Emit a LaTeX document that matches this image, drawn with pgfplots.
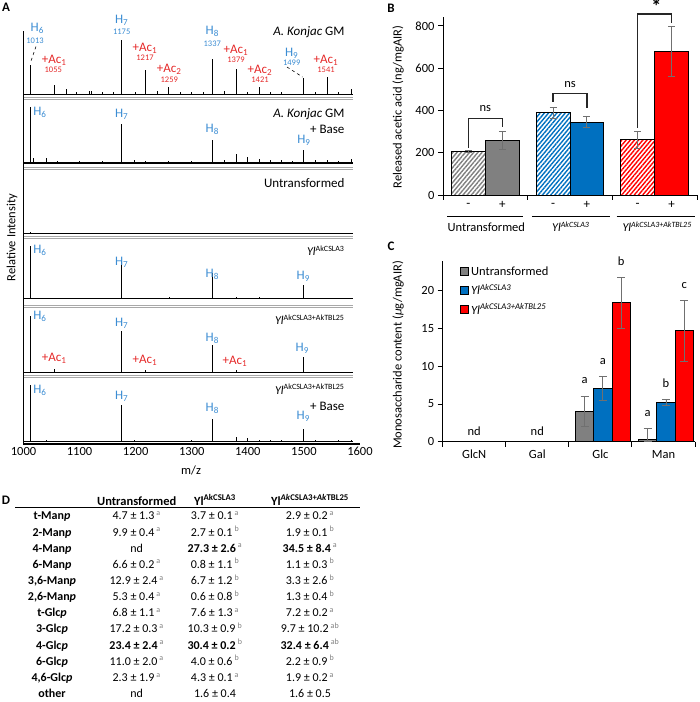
\documentclass[border=0pt]{standalone}
\usepackage{fontspec}
\setmainfont{Carlito}
\usepackage{pgfplots}
\pgfplotsset{compat=1.18}
\usetikzlibrary{patterns.meta}

\definecolor{barGray}{HTML}{808080}
\definecolor{barBlue}{HTML}{0070C0}
\definecolor{barRed}{HTML}{FF0000}
\definecolor{massBlue}{HTML}{3C8DD3}
\definecolor{massRed}{HTML}{E52A2A}
\definecolor{errGray}{HTML}{707070}
\definecolor{sepGray}{HTML}{A8A8A8}

\newcommand{\fs}[1]{\fontsize{#1}{#1}\selectfont}
\newcommand{\sig}[1]{\,\textsuperscript{\color{gray}#1}}

% one row of the linkage table: baseline y, label, three columns
\newcommand{\trow}[5]{%
  \node[anchor=base] at (52pt,-#1pt) {\bfseries #2};
  \node[anchor=base] at (136.7pt,-#1pt) {#3};
  \node[anchor=base] at (215pt,-#1pt) {#4};
  \node[anchor=base] at (310pt,-#1pt) {#5};}

\pgfplotsset{
  spec/.style={scale only axis, width=336.5pt, height=62pt, xmin=1000, xmax=1600,
    ymin=0, ymax=62, axis lines=none, anchor=south west, clip=false},
  peaks/.style={ycomb, black, line width=0.8pt, mark=none},
  base/.style={black, line width=#1, mark=none},
  bbar/.style={ybar, bar width=0.4, bar shift=0pt, draw=black, line width=0.9pt,
    error bars/y dir=both, error bars/y explicit,
    error bars/error bar style={errGray, line width=0.9pt},
    error bars/error mark options={errGray, rotate=90, mark size=3.5pt, line width=0.9pt}},
  cbar/.style={ybar, bar width=0.29, bar shift=0pt, draw=black, line width=0.9pt,
    error bars/y dir=both, error bars/y explicit,
    error bars/error bar style={errGray, line width=0.9pt},
    error bars/error mark options={errGray, rotate=90, mark size=4pt, line width=0.9pt}},
  hatch/.style={preaction={fill=white}, pattern={Lines[angle=50,distance=3.2pt,line width=1.4pt]}, pattern color=#1},
}

\begin{document}
\begin{tikzpicture}[font=\fs{12.5}]
\useasboundingbox (0,0) rectangle (700pt,-702pt);

% ---------------- A: MALDI spectra ----------------
\begin{axis}[scale only axis, width=336.5pt, height=413pt, at={(23.5pt,-444pt)}, anchor=south west,
  xmin=1000, xmax=1600, ymin=0, ymax=1,
  axis x line*=bottom, axis y line*=left, axis line style={line width=1.2pt},
  xtick={1000,1100,...,1600}, ytick=\empty, major tick length=0pt,
  /pgf/number format/1000 sep={}, /pgf/number format/assume math mode=true,
  xticklabel style={font=\fs{12.5}},
  xlabel={m/z}, ylabel={Relative Intensity},
  xlabel style={at={(axis description cs:0.498,-0.063)}, anchor=center},
  ylabel style={at={(axis description cs:-0.034,0.5)}, anchor=center}]
\end{axis}

% A. konjac GM
\begin{axis}[spec, at={(23.5pt,-94pt)}]
\addplot[base=0.8pt] coordinates {(1000,0) (1588,0)};
\addplot[peaks] coordinates {(1013,29) (1055,9) (1077,5) (1095,2) (1117,3) (1121,3) (1140,2) (1160,2)
 (1175,54) (1200,2) (1217,24) (1238,3) (1259,7) (1279,2) (1300,2) (1320,2) (1337,35) (1358,3)
 (1379,25) (1400,2) (1421,7) (1441,2) (1460,2) (1499,16) (1520,2) (1541,17) (1562,2) (1585,5)};
\end{axis}
% A. konjac GM + base
\begin{axis}[spec, at={(23.5pt,-163pt)}]
\addplot[base=1.2pt] coordinates {(1000,0) (1588,0)};
\addplot[peaks] coordinates {(1013,56) (1017,5) (1040,5) (1060,2) (1100,2) (1140,2) (1175,39) (1197,3)
 (1217,2) (1259,2) (1300,2) (1337,23) (1358,3) (1379,9) (1400,6) (1421,4) (1440,3) (1460,3)
 (1480,2) (1499,13) (1520,3) (1541,3) (1562,2) (1585,4)};
\end{axis}
% untransformed
\begin{axis}[spec, at={(23.5pt,-233.7pt)}]
\addplot[base=0.8pt] coordinates {(1000,0) (1588,0)};
\addplot[peaks] coordinates {(1013,2)};
\end{axis}
% Yl AkCSLA3
\begin{axis}[spec, at={(23.5pt,-298.3pt)}]
\addplot[base=0.8pt] coordinates {(1000,0) (1588,0)};
\addplot[peaks] coordinates {(1013,52) (1175,37) (1260,1.5) (1337,25) (1379,1.5) (1420,1.5) (1499,13)};
\end{axis}
% Yl AkCSLA3+AkTBL25
\begin{axis}[spec, at={(23.5pt,-372.3pt)}]
\addplot[base=0.8pt] coordinates {(1000,0) (1588,0)};
\addplot[peaks] coordinates {(1013,56) (1055,3) (1175,41) (1217,2) (1337,27) (1379,2) (1499,15)};
\end{axis}
% Yl AkCSLA3+AkTBL25 + base
\begin{axis}[spec, at={(23.5pt,-441.5pt)}]
\addplot[base=1.0pt] coordinates {(1000,0) (1588,0)};
\addplot[peaks] coordinates {(1013,57) (1040,2) (1175,37) (1197,2) (1300,1.5) (1337,23) (1379,5)
 (1400,4) (1421,2) (1440,2) (1460,2) (1499,13) (1520,2) (1562,2) (1585,2)};
\end{axis}

% panel separators
\foreach \y in {97.5,99.5,166.8,168.8,235.8,237.8,305,307,375.5,377.5}
  \draw[sepGray, line width=0.6pt] (23.5pt,-\y pt) -- (353pt,-\y pt);

% peak annotations
\begin{scope}[font=\fs{13}]
\node[massBlue] at (37.3pt,-28.3pt) {H\textsubscript{6}};
\node[massBlue, font=\fs{8.5}] at (35pt,-40.7pt) {1013};
\node[massRed] at (54.3pt,-60pt) {+Ac\textsubscript{1}};
\node[massRed, font=\fs{8.5}] at (53.3pt,-70pt) {1055};
\node[massBlue] at (121.7pt,-20.7pt) {H\textsubscript{7}};
\node[massBlue, font=\fs{8.5}] at (121.7pt,-31.7pt) {1175};
\node[massRed] at (145pt,-48.3pt) {+Ac\textsubscript{1}};
\node[massRed, font=\fs{8.5}] at (145pt,-57.3pt) {1217};
\node[massRed] at (169.3pt,-69.3pt) {+Ac\textsubscript{2}};
\node[massRed, font=\fs{8.5}] at (169.3pt,-80pt) {1259};
\node[massBlue] at (212.3pt,-31.7pt) {H\textsubscript{8}};
\node[massBlue, font=\fs{8.5}] at (212.3pt,-43.3pt) {1337};
\node[massRed] at (236pt,-50pt) {+Ac\textsubscript{1}};
\node[massRed, font=\fs{8.5}] at (236pt,-60pt) {1379};
\node[massRed] at (260pt,-70pt) {+Ac\textsubscript{2}};
\node[massRed, font=\fs{8.5}] at (260pt,-80pt) {1421};
\node[massBlue] at (291.7pt,-53.3pt) {H\textsubscript{9}};
\node[massBlue, font=\fs{8.5}] at (291.7pt,-63pt) {1499};
\node[massRed] at (326pt,-60pt) {+Ac\textsubscript{1}};
\node[massRed, font=\fs{8.5}] at (326pt,-70pt) {1541};
\draw[dashed, line width=0.6pt] (36pt,-46.5pt) -- (31pt,-61pt);
\draw[dashed, line width=0.6pt] (287pt,-67pt) -- (302.5pt,-77pt);
\node[anchor=east] at (348pt,-31.7pt) {\textit{A. Konjac} GM};

\node[massBlue] at (40pt,-112.7pt) {H\textsubscript{6}};
\node[massBlue] at (121.7pt,-114pt) {H\textsubscript{7}};
\node[massBlue] at (212.3pt,-129.3pt) {H\textsubscript{8}};
\node[massBlue] at (304pt,-140.7pt) {H\textsubscript{9}};
\node[anchor=east] at (348pt,-114pt) {\textit{A. Konjac} GM};
\node[anchor=east] at (348pt,-129.3pt) {+ Base};

\node[anchor=east] at (348pt,-183.3pt) {Untransformed};

\node[massBlue] at (40pt,-250pt) {H\textsubscript{6}};
\node[massBlue] at (121.7pt,-262.7pt) {H\textsubscript{7}};
\node[massBlue] at (212.3pt,-274pt) {H\textsubscript{8}};
\node[massBlue] at (303.3pt,-276.7pt) {H\textsubscript{9}};
\node[anchor=east, font=\fs{12}] at (348pt,-250.7pt) {\textit{Yl}\textsuperscript{AkCSLA3}};

\node[massBlue] at (40pt,-316.7pt) {H\textsubscript{6}};
\node[massBlue] at (121.7pt,-323.3pt) {H\textsubscript{7}};
\node[massBlue] at (212.3pt,-338.3pt) {H\textsubscript{8}};
\node[massBlue] at (302.3pt,-348.3pt) {H\textsubscript{9}};
\node[massRed] at (54.3pt,-358.3pt) {+Ac\textsubscript{1}};
\node[massRed] at (145pt,-360pt) {+Ac\textsubscript{1}};
\node[massRed] at (235pt,-361.7pt) {+Ac\textsubscript{1}};
\node[anchor=east, font=\fs{12}] at (348pt,-320pt) {\textit{Yl}\textsuperscript{AkCSLA3+AkTBL25}};

\node[massBlue] at (40pt,-390pt) {H\textsubscript{6}};
\node[massBlue] at (121.7pt,-396.7pt) {H\textsubscript{7}};
\node[massBlue] at (212.3pt,-408.3pt) {H\textsubscript{8}};
\node[massBlue] at (303.3pt,-416.7pt) {H\textsubscript{9}};
\node[anchor=east, font=\fs{12}] at (348pt,-389.3pt) {\textit{Yl}\textsuperscript{AkCSLA3+AkTBL25}};
\node[anchor=east] at (348pt,-406.7pt) {+ Base};
\end{scope}

% ---------------- B: released acetic acid ----------------
\begin{axis}[scale only axis, width=254pt, height=177.7pt, at={(443pt,-195pt)}, anchor=south west,
  xmin=0, xmax=3, ymin=0, ymax=840, clip=false,
  axis x line*=bottom, axis y line*=left, axis line style={line width=0.9pt},
  xtick=\empty, ytick={0,200,...,800}, tick align=outside, major tick length=5pt,
  tick style={black, line width=0.9pt},
  /pgf/number format/assume math mode=true, yticklabel style={font=\fs{12.5}},
  ylabel={Released acetic acid (ng/mgAIR)},
  ylabel style={at={(axis description cs:-0.177,0.495)}, anchor=center, font=\fs{12.5}}]
\addplot[bbar, hatch=barGray] coordinates {(0.3,205) +- (0,6)};
\addplot[bbar, fill=barGray] coordinates {(0.7,257) +- (0,43)};
\addplot[bbar, hatch=barBlue] coordinates {(1.3,390) +- (0,26)};
\addplot[bbar, fill=barBlue] coordinates {(1.7,345) +- (0,26)};
\addplot[bbar, hatch=barRed] coordinates {(2.3,262) +- (0,40)};
\addplot[bbar, fill=barRed] coordinates {(2.7,680) +- (0,118)};
% group boundary ticks
\pgfplotsinvokeforeach{0,1,2,3}{\draw[line width=0.9pt] (axis cs:#1,0) -- ++(0,-5pt);}
% significance brackets
\draw[black!85, line width=1.3pt] (axis cs:0.3,222) |- (axis cs:0.7,363) -- (axis cs:0.7,323);
\node at (axis cs:0.5,411) {ns};
\draw[black!85, line width=1.3pt] (axis cs:1.3,440) |- (axis cs:1.7,481) -- (axis cs:1.7,410);
\node at (axis cs:1.5,523) {ns};
\draw[black!85, line width=1.3pt] (axis cs:2.3,317) |- (axis cs:2.7,856) -- (axis cs:2.7,812);
\node[font=\fs{20}\bfseries] at (axis cs:2.52,890) {*};
% treatment and strain labels
\node[font=\fs{13}] at (axis cs:0.3,-47) {-};
\node[font=\fs{13}] at (axis cs:0.7,-47) {+};
\node[font=\fs{13}] at (axis cs:1.3,-47) {-};
\node[font=\fs{13}] at (axis cs:1.7,-47) {+};
\node[font=\fs{13}] at (axis cs:2.3,-47) {-};
\node[font=\fs{13}] at (axis cs:2.7,-47) {+};
\draw[line width=0.9pt] (axis cs:0.05,-100) -- (axis cs:0.95,-100);
\draw[line width=0.9pt] (axis cs:1.05,-100) -- (axis cs:1.97,-100);
\draw[line width=0.9pt] (axis cs:2.05,-100) -- (axis cs:2.98,-100);
\node at (axis cs:0.512,-151) {Untransformed};
\node[font=\fs{12}] at (axis cs:1.51,-151) {\textit{Yl}\textsuperscript{\textit{AkCSLA3}}};
\node[font=\fs{12}] at (axis cs:2.53,-151) {\textit{Yl}\textsuperscript{\textit{AkCSLA3+AkTBL25}}};
\end{axis}

% ---------------- C: monosaccharide content ----------------
\begin{axis}[scale only axis, width=252.3pt, height=181pt, at={(442.7pt,-441.7pt)}, anchor=south west,
  xmin=0, xmax=4, ymin=0, ymax=24, clip=false,
  axis x line*=bottom, axis y line*=left, axis line style={line width=0.9pt},
  xtick={0.5,1.5,2.5,3.5}, xticklabels={GlcN,Gal,Glc,Man}, xtick style={draw=none},
  ytick={0,5,...,20}, tick align=outside, major tick length=5pt,
  ytick style={black, line width=0.9pt},
  /pgf/number format/assume math mode=true, ticklabel style={font=\fs{12.5}},
  ylabel={Monosaccharide content (\textit{μ}g/mgAIR)},
  ylabel style={at={(axis description cs:-0.177,0.479)}, anchor=center, font=\fs{12.5}},
  legend style={at={(axis description cs:0.065,0.985)}, anchor=north west, draw=none, fill=none,
    font=\fs{12.5}, row sep=3.5pt, inner sep=1pt},
  legend cell align=left,
  legend image code/.code={\draw[#1, line width=0.8pt] (0pt,-4pt) rectangle (8pt,4pt);}]
\addplot[cbar, fill=barGray] coordinates {(2.25,4.0) +- (0,2.0) (3.25,0.3) += (0,1.4) -= (0,0.3)};
\addplot[cbar, fill=barBlue] coordinates {(2.54,7.1) +- (0,1.6) (3.54,5.2) +- (0,0.45)};
\addplot[cbar, fill=barRed] coordinates {(2.83,18.4) +- (0,3.4) (3.83,14.7) +- (0,4.0)};
\legend{Untransformed, \textit{Yl}\textsuperscript{\textit{AkCSLA3}}, \textit{Yl}\textsuperscript{\textit{AkCSLA3+AkTBL25}}}
\pgfplotsinvokeforeach{0,1,2,3,4}{\draw[line width=0.9pt] (axis cs:#1,0) -- ++(0,-5pt);}
\node at (axis cs:0.5,1.33) {nd};
\node at (axis cs:1.5,1.33) {nd};
\node at (axis cs:2.25,8.18) {a};
\node at (axis cs:2.54,10.6) {a};
\node at (axis cs:2.83,23.9) {b};
\node at (axis cs:3.25,3.77) {a};
\node at (axis cs:3.54,7.75) {b};
\node at (axis cs:3.83,20.65) {c};
\end{axis}

% ---------------- panel letters ----------------
\begin{scope}[font=\fs{13}\bfseries]
\node at (6pt,-7pt) {A};
\node at (391pt,-8pt) {B};
\node at (391pt,-246pt) {C};
\node at (6pt,-500pt) {D};
\end{scope}

% ---------------- D: glycosidic linkage table ----------------
\node[anchor=base, font=\fs{12.5}\bfseries] at (136.7pt,-505pt) {Untransformed};
\node[anchor=base, font=\fs{12.5}\bfseries] at (215pt,-505pt) {Yl\textsuperscript{AkCSLA3}};
\node[anchor=base, font=\fs{12.5}\bfseries] at (310pt,-505pt) {Yl\textsuperscript{\textit{Ak}CSLA3+\textit{Ak}TBL25}};
\draw[line width=1pt] (15pt,-507.5pt) -- (360pt,-507.5pt);
\begin{scope}[font=\fs{12}]
\trow{519.9}{t-Man\textit{p}}{4.7 ± 1.3\sig{a}}{3.7 ± 0.1\sig{a}}{2.9 ± 0.2\sig{a}}
\trow{536.0}{2-Man\textit{p}}{9.9 ± 0.4\sig{a}}{2.7 ± 0.1\sig{b}}{1.9 ± 0.1\sig{b}}
\trow{552.2}{4-Man\textit{p}}{nd}{\textbf{27.3 ± 2.6}\sig{a}}{\textbf{34.5 ± 8.4}\sig{a}}
\trow{568.3}{6-Man\textit{p}}{6.6 ± 0.2\sig{a}}{0.8 ± 1.1\sig{b}}{1.1 ± 0.3\sig{b}}
\trow{584.5}{3,6-Man\textit{p}}{12.9 ± 2.4\sig{a}}{6.7 ± 1.2\sig{b}}{3.3 ± 2.6\sig{b}}
\trow{600.6}{2,6-Man\textit{p}}{5.3 ± 0.4\sig{a}}{0.6 ± 0.8\sig{b}}{1.3 ± 0.4\sig{b}}
\trow{616.8}{t-Glc\textit{p}}{6.8 ± 1.1\sig{a}}{7.6 ± 1.3\sig{a}}{7.2 ± 0.2\sig{a}}
\trow{632.9}{3-Glc\textit{p}}{17.2 ± 0.3\sig{a}}{10.3 ± 0.9\sig{b}}{9.7 ± 10.2\sig{ab}}
\trow{649.1}{4-Glc\textit{p}}{\textbf{23.4 ± 2.4}\sig{a}}{\textbf{30.4 ± 0.2}\sig{b}}{\textbf{32.4 ± 6.4}\sig{ab}}
\trow{665.2}{6-Glc\textit{p}}{11.0 ± 2.0\sig{a}}{4.0 ± 0.6\sig{b}}{2.2 ± 0.9\sig{b}}
\trow{681.4}{4,6-Glc\textit{p}}{2.3 ± 1.9\sig{a}}{4.3 ± 0.1\sig{a}}{1.9 ± 0.2\sig{a}}
\trow{697.5}{other}{nd}{1.6 ± 0.4}{1.6 ± 0.5}
\end{scope}
\end{tikzpicture}
\end{document}
